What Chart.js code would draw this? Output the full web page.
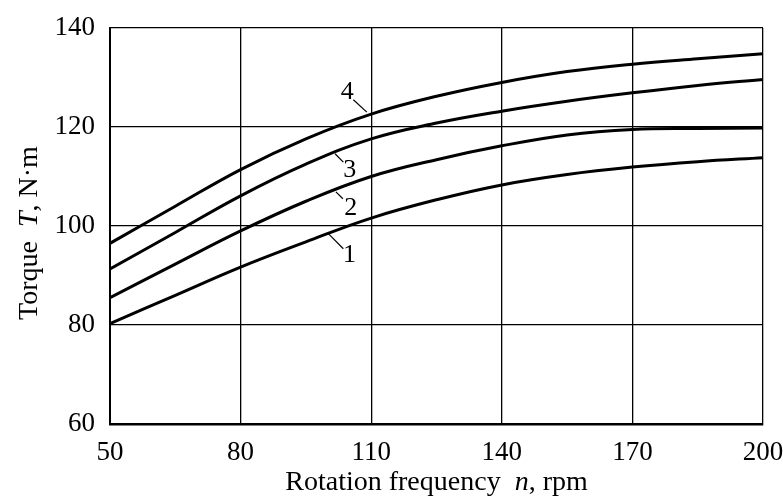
<!DOCTYPE html>
<html>
<head>
<meta charset="utf-8">
<script src="https://cdn.jsdelivr.net/npm/chart.js@4"></script>
<style>
  html, body { margin: 0; padding: 0; background: #fff; }
  #wrap { width: 783px; height: 503px; position: relative; }
</style>
</head>
<body>
<div id="wrap"><canvas id="torqueChart"></canvas></div>
<script>
// Torque vs rotation frequency, curves 1-4

const freq = [50, 65, 80, 95, 110, 125, 140, 155, 170, 185, 200];
const curve1 = [80.3, 86.0, 91.7, 96.8, 101.6, 105.3, 108.3, 110.4, 111.9, 113.0, 113.8];
const curve2 = [85.5, 92.3, 99.0, 105.0, 110.0, 113.4, 116.2, 118.4, 119.5, 119.7, 119.8];
const curve3 = [91.3, 98.7, 106.1, 112.5, 117.6, 120.8, 123.2, 125.2, 126.9, 128.4, 129.6];
const curve4 = [96.5, 104.0, 111.4, 117.6, 122.6, 126.2, 129.0, 131.2, 132.7, 133.8, 134.8];

const xTicks = [50, 80, 110, 140, 170, 200];
const yTicks = [60, 80, 100, 120, 140];

// curve labels: text position and leader line ends (data units)
const labelNames = ['1', '2', '3', '4'];
const labelPos = [[105.0, 94.1], [105.3, 103.7], [105.1, 111.2], [104.5, 127.0]];
const leaderFrom = [[100.1, 98.5], [101.9, 106.9], [101.7, 114.6], [109.0, 123.0]];
const leaderTo = [[103.6, 95.4], [103.5, 105.5], [103.6, 112.9], [105.9, 125.5]];

const serif = '"Liberation Serif", "DejaVu Serif", serif';

function pts(ys) {
    return freq.map((x, i) => ({ x: x, y: ys[i] }));
}

const lineStyle = {
    borderColor: '#000',
    borderWidth: 3,
    pointRadius: 0,
    fill: false,
    tension: 0.4
};

// draws curve numbers, leader lines and the mixed italic axis titles
const decorPlugin = {
    id: 'decor',
    afterDatasetsDraw(chart) {
        const ctx = chart.ctx;
        const xs = chart.scales.x, ys = chart.scales.y;
        ctx.save();
        ctx.strokeStyle = '#000';
        ctx.lineWidth = 1.2;
        ctx.fillStyle = '#000';
        ctx.font = '26px ' + serif;
        ctx.textAlign = 'center';
        ctx.textBaseline = 'middle';
        labelNames.forEach((t, i) => {
            ctx.beginPath();
            ctx.moveTo(xs.getPixelForValue(leaderFrom[i][0]), ys.getPixelForValue(leaderFrom[i][1]));
            ctx.lineTo(xs.getPixelForValue(leaderTo[i][0]), ys.getPixelForValue(leaderTo[i][1]));
            ctx.stroke();
            ctx.fillText(t, xs.getPixelForValue(labelPos[i][0]), ys.getPixelForValue(labelPos[i][1]));
        });

        // x title
        const area = chart.chartArea;
        const partsX = [['Rotation frequency  ', false], ['n', true], [', rpm', false]];
        drawParts(ctx, partsX, (area.left + area.right) / 2, 490);

        // y title (rotated)
        ctx.translate(37, (area.top + area.bottom) / 2 + 7);
        ctx.rotate(-Math.PI / 2);
        const partsY = [['Torque  ', false], ['T', true], [', N\u00b7m', false]];
        drawParts(ctx, partsY, 0, 0);
        ctx.restore();
    }
};

function drawParts(ctx, parts, cx, baseY) {
    let total = 0;
    parts.forEach(p => {
        ctx.font = (p[1] ? 'italic ' : '') + '28px ' + serif;
        total += ctx.measureText(p[0]).width;
    });
    let x = cx - total / 2;
    ctx.textAlign = 'left';
    ctx.textBaseline = 'alphabetic';
    parts.forEach(p => {
        ctx.font = (p[1] ? 'italic ' : '') + '28px ' + serif;
        ctx.fillText(p[0], x, baseY);
        x += ctx.measureText(p[0]).width;
    });
}

new Chart(document.getElementById('torqueChart'), {
    type: 'line',
    data: {
        datasets: [
            { label: '1', data: pts(curve1), ...lineStyle },
            { label: '2', data: pts(curve2), ...lineStyle },
            { label: '3', data: pts(curve3), ...lineStyle },
            { label: '4', data: pts(curve4), ...lineStyle }
        ]
    },
    options: {
        responsive: true,
        maintainAspectRatio: false,
        animation: false,
        layout: { padding: { left: 0, right: 20, top: 28, bottom: 0 } },
        plugins: {
            legend: { display: false },
            tooltip: { enabled: false }
        },
        scales: {
            x: {
                type: 'linear',
                min: 50,
                max: 200,
                afterBuildTicks: s => { s.ticks = xTicks.map(v => ({ value: v })); },
                afterFit: s => {
                    s.height = 79;
                    s.paddingLeft = 0;
                    s.paddingRight = 0;
                },
                ticks: {
                    color: '#000',
                    font: { family: serif, size: 27 },
                    padding: 13,
                    maxRotation: 0
                },
                grid: {
                    color: '#000',
                    lineWidth: 1.3,
                    drawTicks: false
                },
                border: { color: '#000', width: 2.5 }
            },
            y: {
                min: 60,
                max: 140,
                afterBuildTicks: s => { s.ticks = yTicks.map(v => ({ value: v })); },
                afterFit: s => {
                    s.width = 110;
                    s.paddingTop = 0;
                    s.paddingBottom = 0;
                },
                ticks: {
                    color: '#000',
                    font: { family: serif, size: 27 },
                    padding: 15
                },
                grid: {
                    color: '#000',
                    lineWidth: 1.3,
                    drawTicks: false
                },
                border: { color: '#000', width: 2 }
            }
        }
    },
    plugins: [decorPlugin]
});
</script>
</body>
</html>
